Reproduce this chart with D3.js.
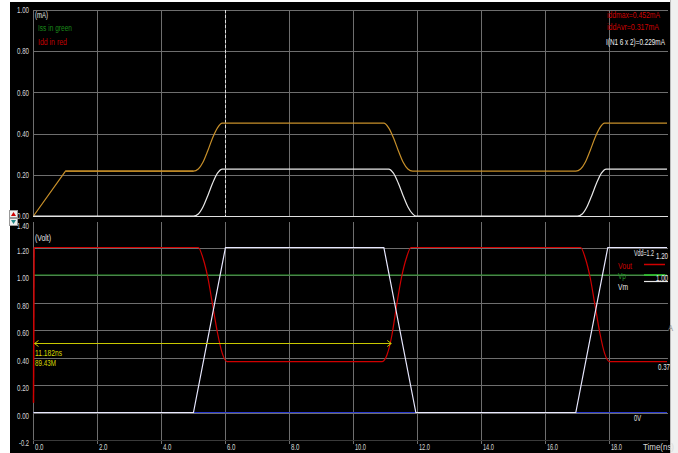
<!DOCTYPE html>
<html><head><meta charset="utf-8">
<script src="https://cdn.jsdelivr.net/npm/d3@7/dist/d3.min.js"></script>
<style>html,body{margin:0;padding:0;background:#fff;}svg{display:block;}
text{font-family:"Liberation Sans",Arial,sans-serif;font-size:9.5px;}</style>
</head><body>
<svg id="c" width="678" height="453"></svg>
<script>
// ---- data ----
const xTicks = [0, 2, 4, 6, 8, 10, 12, 14, 16, 18];
const xTickLabels = ["0.0","2.0","4.0","6.0","8.0","10.0","12.0","14.0","16.0","18.0"];
const topTicks = [0, 0.2, 0.4, 0.6, 0.8, 1.0];
const topTickLabels = ["0.00","0.20","0.40","0.60","0.80","1.00"];
const botTicks = [-0.2, 0, 0.2, 0.4, 0.6, 0.8, 1.0, 1.2, 1.4];
const botTickLabels = ["-0.2","0.00","0.20","0.40","0.60","0.80","1.00","1.20","1.40"];

// Idd (orange), mA
const iddT = [0, 1.0, 5.0, 5.15, 5.3, 5.45, 5.6, 5.75, 5.9, 10.95, 11.1, 11.25, 11.4, 11.55, 11.7, 11.85, 16.95, 17.1, 17.25, 17.4, 17.55, 17.7, 17.85, 19.8];
const iddV = [0, 0.218, 0.218, 0.228, 0.262, 0.318, 0.38, 0.428, 0.451, 0.451, 0.428, 0.38, 0.318, 0.262, 0.228, 0.218, 0.218, 0.228, 0.262, 0.318, 0.38, 0.428, 0.451, 0.451];
// I(N1 6 x 2) (white), mA
const inT = [0, 5.0, 5.15, 5.3, 5.45, 5.6, 5.75, 5.9, 11.1, 11.25, 11.4, 11.55, 11.7, 11.85, 11.95, 17.0, 17.15, 17.3, 17.45, 17.6, 17.75, 17.9, 19.8];
const inV = [0, 0, 0.01, 0.045, 0.1, 0.16, 0.208, 0.228, 0.228, 0.208, 0.16, 0.1, 0.045, 0.01, 0, 0, 0.01, 0.045, 0.1, 0.16, 0.208, 0.228, 0.228];
// Vout (red), V
const voutT = [0, 0.02, 5.15, 5.3, 5.45, 5.6, 5.75, 5.9, 6.05, 10.9, 11.05, 11.2, 11.35, 11.5, 11.65, 11.8, 17.1, 17.25, 17.4, 17.55, 17.7, 17.85, 18.0, 19.8];
const voutV = [0.07, 1.2, 1.2, 1.12, 0.98, 0.78, 0.58, 0.43, 0.37, 0.37, 0.42, 0.56, 0.78, 0.98, 1.12, 1.2, 1.2, 1.12, 0.98, 0.78, 0.58, 0.43, 0.37, 0.37];
// Vm (white), V
const vmT = [0, 5.0, 6.0, 10.95, 11.95, 16.95, 17.95, 19.8];
const vmV = [0, 0, 1.2, 1.2, 0, 0, 1.2, 1.2];
// Vp (green), V
const vpT = [0, 19.8];
const vpV = [1.0, 1.0];
// 0V reference (blue)
const vssT = [0, 19.8];
const vssV = [0, 0];
// measurement marker
const markT = [0, 11.182];
const markV = 0.505;

// ---- drawing ----
const svg = d3.select("#c");
svg.append("rect").attr("x",10).attr("y",2).attr("width",660).attr("height",451).attr("fill","#000");
svg.append("rect").attr("x",670).attr("y",0).attr("width",8).attr("height",453).attr("fill","#f0f0f0");
svg.append("line").attr("x1",670.5).attr("x2",670.5).attr("y1",0).attr("y2",453).attr("stroke","#bbb");

// narrow text: horizontally compressed to the width seen in the reference
function T(px, py, s, fill, w, anchor){
  const g = svg.append("g");
  const t = g.append("text").attr("x",0).attr("y",0).attr("fill",fill).text(s);
  let sx = 1;
  if (w) { const nat = t.node().getComputedTextLength(); if (nat > 0) sx = w / nat; }
  if (anchor) t.attr("text-anchor",anchor);
  g.attr("transform",`translate(${px},${py}) scale(${sx},1)`);
  return t;
}

const x = d3.scaleLinear().domain([0, 19.8]).range([33.5, 667]);
const yT = d3.scaleLinear().domain([0, 1]).range([216, 10]);
const yB = d3.scaleLinear().domain([-0.2, 1.4]).range([440, 220]);

const grid = "#6e6e6e";
// top panel grid
const gTop = svg.append("g");
gTop.selectAll("line.h").data(topTicks.slice(1)).join("line")
  .attr("x1",33).attr("x2",668).attr("y1",d=>Math.round(yT(d))+0.5).attr("y2",d=>Math.round(yT(d))+0.5)
  .attr("stroke",grid);
gTop.selectAll("line.v").data(xTicks.slice(1)).join("line")
  .attr("x1",d=>Math.round(x(d))+0.5).attr("x2",d=>Math.round(x(d))+0.5).attr("y1",10).attr("y2",216)
  .attr("stroke",grid);
gTop.append("line").attr("x1",33.5).attr("x2",33.5).attr("y1",10).attr("y2",216).attr("stroke",grid);
gTop.append("line").attr("x1",33).attr("x2",668).attr("y1",216.5).attr("y2",216.5).attr("stroke","#e0e0e0");
// bottom panel grid
const gBot = svg.append("g");
gBot.selectAll("line.h").data(botTicks.filter(d=>d>-0.1 && d<1.3)).join("line")
  .attr("x1",33).attr("x2",668).attr("y1",d=>Math.round(yB(d))+0.5).attr("y2",d=>Math.round(yB(d))+0.5)
  .attr("stroke",grid);
gBot.selectAll("line.v").data(xTicks.slice(1)).join("line")
  .attr("x1",d=>Math.round(x(d))+0.5).attr("x2",d=>Math.round(x(d))+0.5).attr("y1",222).attr("y2",444)
  .attr("stroke",grid);
gBot.append("line").attr("x1",33.5).attr("x2",33.5).attr("y1",222).attr("y2",444).attr("stroke",grid);
gBot.append("line").attr("x1",33).attr("x2",668).attr("y1",440.5).attr("y2",440.5).attr("stroke","#3a3a3a");

// tick labels
const lab = "#d8d8d8";
topTicks.forEach((d,i)=>T(29, yT(d)+3.2, topTickLabels[i], lab, 12, "end"));
botTicks.forEach((d,i)=>T(29, yB(d)+(d>1.3?9:6), botTickLabels[i], lab, d<0?10:12, "end"));
xTicks.forEach((d,i)=>T(x(d)+1.5, 449.5, xTickLabels[i], lab, xTickLabels[i].length>3?11:8.5));
T(643, 449.5, "Time(ns)", lab, 31);

// scroll buttons
svg.append("rect").attr("x",9.5).attr("y",210.5).attr("width",8).attr("height",7).attr("fill","#eee").attr("stroke","#999");
svg.append("path").attr("d","M11,216 L13.5,212 L16,216Z").attr("fill","#c00");
svg.append("rect").attr("x",9.5).attr("y",218.5).attr("width",8).attr("height",7).attr("fill","#eee").attr("stroke","#999");
svg.append("path").attr("d","M11,220 L13.5,224 L16,220Z").attr("fill","#288");

// cursor
svg.append("line").attr("x1",Math.round(x(6))+0.5).attr("x2",Math.round(x(6))+0.5).attr("y1",10).attr("y2",216)
  .attr("stroke","#ddd").attr("stroke-dasharray","3,2");

function pts(Tt,V){ return Tt.map((t,i)=>[t,V[i]]); }
const lineT = d3.line().x(d=>x(d[0])).y(d=>yT(d[1])).curve(d3.curveMonotoneX);
const lineB = d3.line().x(d=>x(d[0])).y(d=>yB(d[1])).curve(d3.curveMonotoneX);
const lineL = d3.line().x(d=>x(d[0])).y(d=>yB(d[1]));

// top curves
svg.append("path").attr("d",d3.line().x(d=>x(d[0])).y(d=>yT(d[1]))(pts(iddT,iddV).slice(0,3))).attr("fill","none").attr("stroke","#c8902a").attr("stroke-width",1.2);
svg.append("path").attr("d",lineT(pts(iddT,iddV).slice(1))).attr("fill","none").attr("stroke","#c8902a").attr("stroke-width",1.2);
svg.append("path").attr("d",lineT(pts(inT,inV))).attr("fill","none").attr("stroke","#e8e8e8").attr("stroke-width",1.2);

// bottom curves
svg.append("path").attr("d",lineL(pts(vpT,vpV))).attr("fill","none").attr("stroke","#2a9a2a").attr("stroke-width",1.2);
svg.append("path").attr("d",lineL(pts(vssT,vssV))).attr("fill","none").attr("stroke","#2a3ad0").attr("stroke-width",1.2);
svg.append("path").attr("d",lineB(pts(voutT,voutV).slice(1))).attr("fill","none").attr("stroke","#d00000").attr("stroke-width",1.2);
svg.append("path").attr("d",lineL(pts(voutT,voutV).slice(0,2))).attr("fill","none").attr("stroke","#d00000").attr("stroke-width",1.5);
svg.append("path").attr("d",lineL(pts(vmT,vmV))).attr("fill","none").attr("stroke","#e8e8ff").attr("stroke-width",1.2);

// measurement marker
const yM = Math.round(yB(markV))+0.5;
svg.append("line").attr("x1",x(markT[0])+1).attr("x2",x(markT[1])).attr("y1",yM).attr("y2",yM).attr("stroke","#c8c800").attr("stroke-width",1.2);
svg.append("path").attr("d",`M${x(markT[0])+5},${yM-3} L${x(markT[0])+1},${yM} L${x(markT[0])+5},${yM+3}`).attr("fill","none").attr("stroke","#c8c800");
svg.append("path").attr("d",`M${x(markT[1])-4},${yM-3} L${x(markT[1])},${yM} L${x(markT[1])-4},${yM+3}`).attr("fill","none").attr("stroke","#c8c800");
T(35, 355.5, "11.182ns", "#d8d800", 27);
T(35, 365.5, "89.43M", "#d8d800", 21);

// top panel annotations
T(35, 17.5, "(mA)", "#e8e8e8", 13);
T(38, 30.5, "Iss in green", "#1a8a1a", 34);
T(38, 44.5, "Idd in red", "#c00000", 29);
T(607, 17.5, "iddmax=0.452mA", "#d00000", 53);
T(607, 29.5, "iddAvr=0.317mA", "#d00000", 52);
T(606, 44.5, "I(N1 6 x 2)=0.229mA", "#f0f0f0", 59);

// bottom panel annotations
T(35, 240.5, "(Volt)", "#e8e8e8", 16);
T(634, 256, "Vdd=1.2", "#e8e8e8", 20);
T(656, 258.5, "1.20", "#e8e8e8", 12);
T(618, 268.5, "Vout", "#d00000", 14);
svg.append("line").attr("x1",644).attr("x2",665).attr("y1",264.5).attr("y2",264.5).attr("stroke","#d00000").attr("stroke-width",1.5);
T(618, 278.5, "Vp", "#2a9a2a", 8);
svg.append("line").attr("x1",644).attr("x2",665).attr("y1",275).attr("y2",275).attr("stroke","#33cc33").attr("stroke-width",1.5);
T(618, 289.5, "Vm", "#e8e8e8", 10);
svg.append("line").attr("x1",644).attr("x2",668).attr("y1",281.5).attr("y2",281.5).attr("stroke","#e8e8e8").attr("stroke-width",1.2);
T(656, 281, "1.00", "#e8e8e8", 12);
T(658, 369.5, "0.37", "#e8e8e8", 12);
T(634, 420.5, "0V", "#e8e8e8", 7);
T(668, 331, "A", "#888", 5);
</script>
</body></html>
